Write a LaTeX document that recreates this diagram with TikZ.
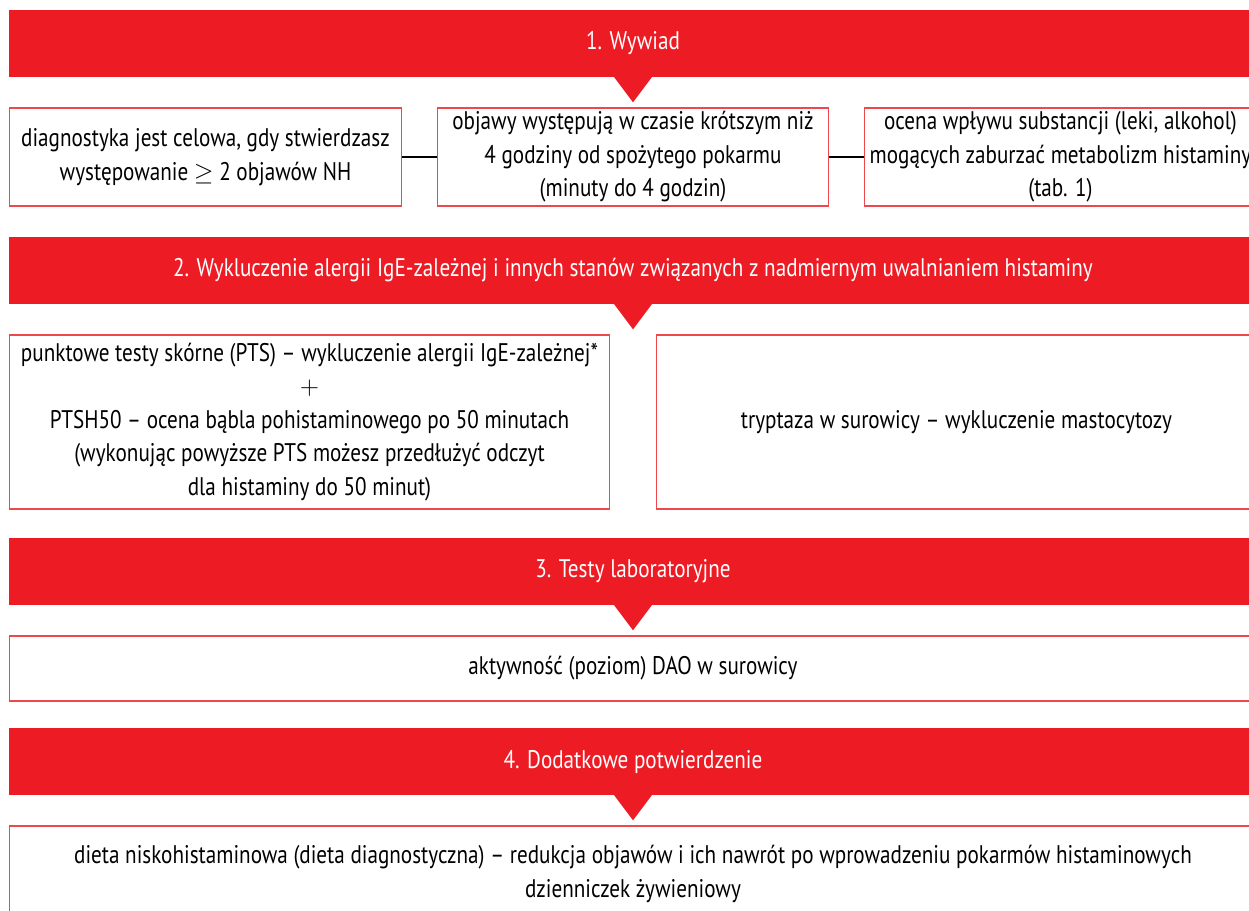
\documentclass[tikz,border=0pt]{standalone}
\usepackage{fontspec}
\setmainfont{PT Sans}[FakeStretch=0.83]
\definecolor{bannerred}{RGB}{237,28,36}
\definecolor{edgered}{RGB}{236,72,78}
\begin{document}
\begin{tikzpicture}[x=0.02cm, y=-0.02cm,
    txt/.style={font=\fontsize{14.5}{19}\selectfont, align=center, inner sep=0pt},
    banner/.style={txt, fill=bannerred, text=white, minimum width=24.96cm, minimum height=1.34cm},
    stepbox/.style={txt, draw=edgered, line width=0.6pt, fill=white},
    link/.style={draw=black, line width=0.6pt}]
  \useasboundingbox (0,0) rectangle (1249,911);
  \clip (0,0) rectangle (1249,911);

  % banners with their pointers
  \node[banner] (b1) at (633,43.5) {1. Wywiad};
  \node[banner] (b2) at (633,270.5) {2. Wykluczenie alergii IgE-zależnej i innych stanów związanych z nadmiernym uwalnianiem histaminy};
  \node[banner] (b3) at (633,571.5) {3. Testy laboratoryjne};
  \node[banner] (b4) at (633,761.5) {4. Dodatkowe potwierdzenie};
  \foreach \b in {b1,b2,b3,b4} {
      \fill[bannerred] ([shift={(-19.5,-1)}]\b.south) -- ([shift={(19.5,-1)}]\b.south) -- ([yshift=-0.5cm]\b.south) -- cycle;
    }

  % row 1
  \node[stepbox, minimum width=7.86cm, minimum height=1.96cm] (hist) at (205.5,157)
    {diagnostyka jest celowa, gdy stwierdzasz\\występowanie $\geq$ 2 objawów NH};
  \node[stepbox, minimum width=7.84cm, minimum height=1.96cm] (time) at (633,157)
    {objawy występują w czasie krótszym niż\\4 godziny od spożytego pokarmu\\(minuty do 4 godzin)};
  \node[stepbox, minimum width=7.86cm, minimum height=1.96cm] (drug) at (1060.5,157)
    {ocena wpływu substancji (leki, alkohol)\\mogących zaburzać metabolizm histaminy\\(tab. 1)};
  \draw[link] (hist.east) -- (time.west);
  \draw[link] (time.east) -- (drug.west);

  % row 2
  \node[stepbox, minimum width=12.02cm, minimum height=3.48cm] (skin) at (309.5,422)
    {punktowe testy skórne (PTS) – wykluczenie alergii IgE-zależnej*\\$+$\\PTSH50 – ocena bąbla pohistaminowego po 50 minutach\\(wykonując powyższe PTS możesz przedłużyć odczyt\\dla histaminy do 50 minut)};
  \node[stepbox, minimum width=12.02cm, minimum height=3.48cm] (tryp) at (956.5,422)
    {tryptaza w surowicy – wykluczenie mastocytozy};

  % row 3 and row 4
  \node[stepbox, minimum width=24.96cm, minimum height=1.30cm] (dao) at (633,668.5)
    {aktywność (poziom) DAO w surowicy};
  \node[stepbox, minimum width=24.96cm, minimum height=1.92cm] (diet) at (633,874)
    {dieta niskohistaminowa (dieta diagnostyczna) – redukcja objawów i ich nawrót po wprowadzeniu pokarmów histaminowych\\dzienniczek żywieniowy};
\end{tikzpicture}
\end{document}
